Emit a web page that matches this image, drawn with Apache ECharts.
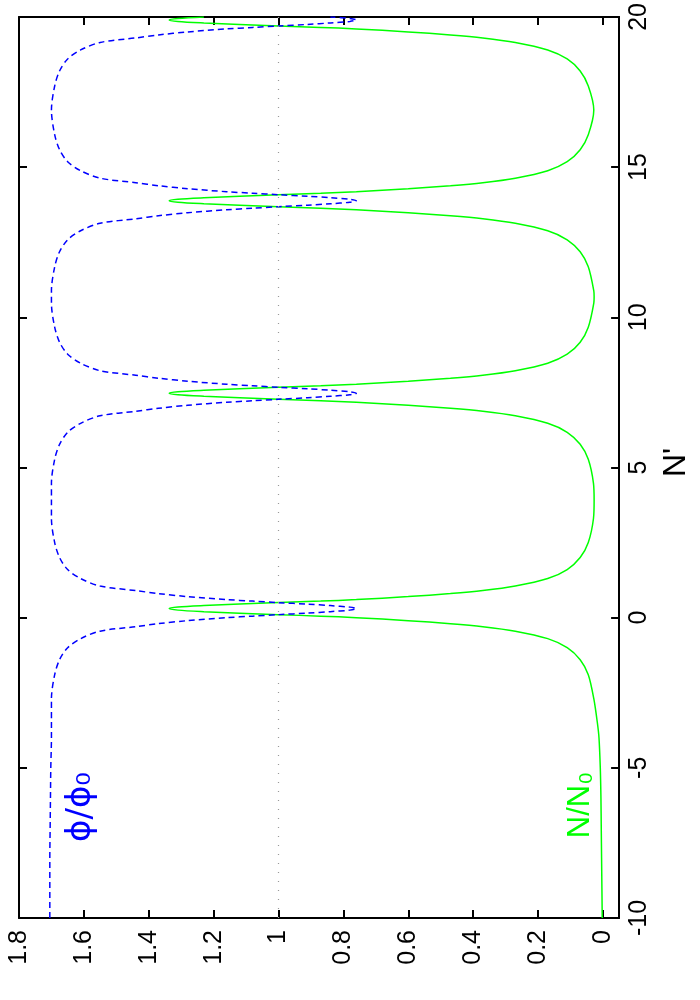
<!DOCTYPE html>
<html>
<head>
<meta charset="utf-8">
<script src="https://cdn.jsdelivr.net/npm/echarts@6/dist/echarts.min.js"></script>
<style>
  html, body { margin: 0; padding: 0; background: #fff; }
  #chart { width: 700px; height: 1000px; }
</style>
</head>
<body>
<div id="chart"></div>
<script>
// N' samples (vertical axis in the rotated picture)
const nPrime = [
  -10, -9, -8, -7, -6, -5, -4, -3.5, -2.7,
  -1.9, -1.4, -1.0, -0.7, -0.45, -0.3, -0.2, -0.1, 0.0, 0.05, 0.1, 0.15, 0.2, 0.25, 0.3,
  0.35, 0.4, 0.45, 0.5, 0.55, 0.6, 0.7, 0.8, 0.9, 1.05, 1.3, 1.6, 2.0, 2.5, 3.3, 3.9,
  4.47, 5.27, 5.77, 6.17, 6.47, 6.72, 6.87, 6.97, 7.07, 7.17, 7.22, 7.27, 7.32, 7.37, 7.42, 7.47,
  7.52, 7.57, 7.62, 7.67, 7.72, 7.77, 7.87, 7.97, 8.07, 8.22, 8.47, 8.77, 9.17, 9.67, 10.47, 10.68,
  10.88, 11.68, 12.18, 12.58, 12.88, 13.13, 13.28, 13.38, 13.48, 13.58, 13.63, 13.68, 13.73, 13.78, 13.83, 13.88,
  13.93, 13.98, 14.03, 14.08, 14.13, 14.18, 14.28, 14.38, 14.48, 14.63, 14.88, 15.18, 15.58, 16.08, 16.9,
  17.7, 18.2, 18.6, 18.9, 19.15, 19.3, 19.4, 19.5, 19.6, 19.65, 19.7, 19.75, 19.8, 19.85, 19.9,
  19.95, 20.0
];

// N/N0 (green, solid)
const nRatio = [
  0.002, 0.003, 0.004, 0.005, 0.006, 0.008, 0.012, 0.017, 0.028,
  0.045, 0.07, 0.11, 0.17, 0.27, 0.37, 0.47, 0.60, 0.76, 0.87, 1.00, 1.12, 1.23, 1.31, 1.337,
  1.31, 1.23, 1.12, 1.00, 0.87, 0.76, 0.60, 0.47, 0.37, 0.27, 0.17, 0.11, 0.07, 0.045, 0.029, 0.027,
  0.029, 0.045, 0.07, 0.11, 0.17, 0.27, 0.37, 0.47, 0.60, 0.76, 0.87, 1.00, 1.12, 1.23, 1.31, 1.337,
  1.31, 1.23, 1.12, 1.00, 0.87, 0.76, 0.60, 0.47, 0.37, 0.27, 0.17, 0.11, 0.07, 0.045, 0.028, 0.027,
  0.028, 0.045, 0.07, 0.11, 0.17, 0.27, 0.37, 0.47, 0.60, 0.76, 0.87, 1.00, 1.12, 1.23, 1.31, 1.337,
  1.31, 1.23, 1.12, 1.00, 0.87, 0.76, 0.60, 0.47, 0.37, 0.27, 0.17, 0.11, 0.07, 0.045, 0.028,
  0.045, 0.07, 0.11, 0.17, 0.27, 0.37, 0.47, 0.60, 0.76, 0.87, 1.00, 1.12, 1.23, 1.31, 1.337,
  1.31, 1.23
];

// phi/phi0 (blue, dashed)
const phiRatio = [
  1.705, 1.705, 1.705, 1.704, 1.703, 1.702, 1.70, 1.70, 1.70,
  1.69, 1.675, 1.65, 1.61, 1.55, 1.44, 1.37, 1.28, 1.16, 1.08, 1.00, 0.91, 0.84, 0.78, 0.76,
  0.78, 0.84, 0.91, 1.00, 1.08, 1.16, 1.28, 1.37, 1.44, 1.55, 1.61, 1.65, 1.675, 1.69, 1.70, 1.70,
  1.70, 1.69, 1.675, 1.65, 1.61, 1.55, 1.44, 1.37, 1.28, 1.16, 1.08, 1.00, 0.91, 0.84, 0.78, 0.76,
  0.78, 0.84, 0.91, 1.00, 1.08, 1.16, 1.28, 1.37, 1.44, 1.55, 1.61, 1.65, 1.675, 1.69, 1.70, 1.70,
  1.70, 1.69, 1.675, 1.65, 1.61, 1.55, 1.44, 1.37, 1.28, 1.16, 1.08, 1.00, 0.91, 0.84, 0.78, 0.76,
  0.78, 0.84, 0.91, 1.00, 1.08, 1.16, 1.28, 1.37, 1.44, 1.55, 1.61, 1.65, 1.675, 1.69, 1.70,
  1.69, 1.675, 1.65, 1.61, 1.55, 1.44, 1.37, 1.28, 1.16, 1.08, 1.00, 0.91, 0.84, 0.78, 0.76,
  0.78, 0.84
];

const valueTicks = [0, 0.2, 0.4, 0.6, 0.8, 1, 1.2, 1.4, 1.6, 1.8];

const chart = echarts.init(document.getElementById('chart'));
const font = 'Liberation Sans, Arial, sans-serif';

const valueAxisBase = {
  type: 'value',
  min: -0.05,
  max: 1.8,
  inverse: true,
  axisLine: { show: true, onZero: false, lineStyle: { color: '#000', width: 2 } },
  axisTick: { show: true, inside: true, length: 8, lineStyle: { color: '#000', width: 2 }, customValues: valueTicks },
  splitLine: { show: false }
};

const nAxisBase = {
  type: 'value',
  min: -10,
  max: 20,
  interval: 5,
  axisLine: { show: true, onZero: false, lineStyle: { color: '#000', width: 2 } },
  axisTick: { show: true, inside: true, length: 8, lineStyle: { color: '#000', width: 2 } },
  splitLine: { show: false }
};

const option = {
  animation: false,
  backgroundColor: '#fff',
  grid: { left: 19, right: 78, top: 12, bottom: 82, containLabel: false },
  xAxis: [
    Object.assign({}, valueAxisBase, {
      position: 'bottom',
      axisLabel: {
        show: true, rotate: 90, margin: 12, color: '#000', fontSize: 25, fontFamily: font,
        customValues: valueTicks,
        formatter: v => String(+v.toFixed(1))
      }
    }),
    Object.assign({}, valueAxisBase, { position: 'top', axisLabel: { show: false } })
  ],
  yAxis: [
    Object.assign({}, nAxisBase, {
      position: 'right',
      name: "N'",
      nameLocation: 'middle',
      nameRotate: 90,
      nameGap: 29,
      nameTextStyle: { color: '#000', fontSize: 32, fontFamily: font, padding: [0, 0, 0, 10] },
      axisLabel: { show: true, rotate: 90, margin: 8, color: '#000', fontSize: 25, fontFamily: font }
    }),
    Object.assign({}, nAxisBase, { position: 'left', axisLabel: { show: false } })
  ],
  series: [
    {
      name: 'N/N0',
      type: 'line',
      xAxisIndex: 0,
      yAxisIndex: 0,
      showSymbol: false,
      smooth: 0.3,
      data: nPrime.map((n, i) => [nRatio[i], n]),
      lineStyle: { color: '#00ff00', width: 1.5 },
      markLine: {
        silent: true,
        symbol: 'none',
        label: { show: false },
        lineStyle: { color: '#999', type: [1, 8], width: 1.2 },
        data: [{ xAxis: 1 }]
      },
      z: 2
    },
    {
      name: 'phi/phi0',
      type: 'line',
      xAxisIndex: 0,
      yAxisIndex: 0,
      showSymbol: false,
      smooth: 0.3,
      data: nPrime.map((n, i) => [phiRatio[i], n]),
      lineStyle: { color: '#0000ff', width: 1.5, type: [6, 4] },
      z: 3
    }
  ],
  graphic: [
    {
      type: 'text',
      x: 81, y: 807,
      rotation: Math.PI / 2,
      style: {
        text: 'ϕ/ϕ₀',
        fill: '#0000ff',
        font: '34px DejaVu Sans, sans-serif',
        align: 'center',
        verticalAlign: 'middle'
      }
    },
    {
      type: 'text',
      x: 580, y: 805,
      rotation: Math.PI / 2,
      style: {
        text: 'N/N₀',
        fill: '#00ff00',
        font: '31px Liberation Sans, Arial, sans-serif',
        align: 'center',
        verticalAlign: 'middle'
      }
    }
  ]
};

chart.setOption(option);
</script>
</body>
</html>
